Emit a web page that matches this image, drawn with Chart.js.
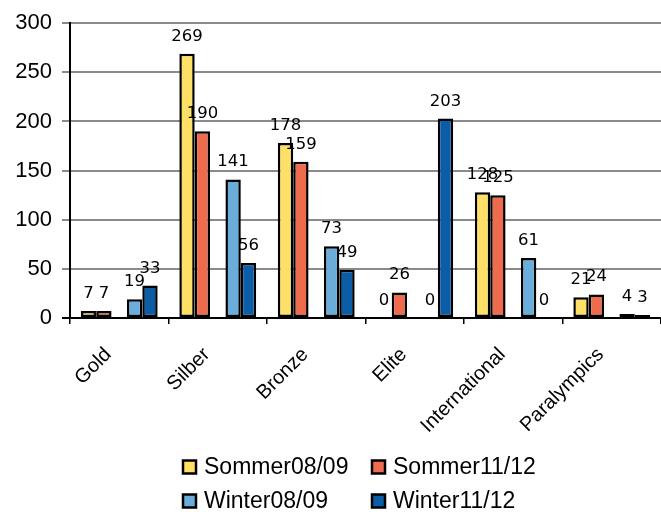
<!DOCTYPE html>
<html><head><meta charset="utf-8">
<script src="https://cdn.jsdelivr.net/npm/chart.js@4.4.1/dist/chart.umd.min.js"></script>
<style>html,body{margin:0;padding:0;background:#fff;}#wrap{width:661px;height:512px;}</style>
</head><body><div id="wrap"><canvas id="c" width="661" height="512"></canvas></div>
<script>
const categories = ['Gold','Silber','Bronze','Elite','International','Paralympics'];
const seriesNames = ['Sommer08/09','Sommer11/12','Winter08/09','Winter11/12'];
const sommer0809 = [7,269,178,0,128,21];
const sommer1112 = [7,190,159,26,125,24];
const winter0809 = [19,141,73,0,61,4];
const winter1112 = [33,56,49,203,0,3];
const yMin = 0, yMax = 300, yStep = 50;
const seriesColors = ['#FFE066','#EE6C4D','#6AADDB','#0B5DA7'];

const seriesData = [sommer0809, sommer1112, winter0809, winter1112];
function ds(i){
  return {label: seriesNames[i], data: seriesData[i], backgroundColor: seriesColors[i],
    borderColor: '#000', borderWidth: 2.5, borderSkipped: false, isSeries: true};
}
const spacer = {label: '', data: categories.map(() => null), backgroundColor: 'rgba(0,0,0,0)', borderWidth: 0, isSeries: false};

const valueLabels = {
  id: 'valueLabels',
  afterDatasetsDraw(chart) {
    const ctx = chart.ctx;
    ctx.save();
    ctx.font = '16.5px "DejaVu Sans"';
    ctx.fillStyle = '#000';
    ctx.textAlign = 'center';
    ctx.textBaseline = 'alphabetic';
    chart.data.datasets.forEach((d, di) => {
      if (!d.isSeries) return;
      const meta = chart.getDatasetMeta(di);
      meta.data.forEach((el, i) => {
        const v = d.data[i];
        if (v === null || v === undefined) return;
        ctx.fillText(String(v), el.x, el.y - 13);
      });
    });
    ctx.restore();
  }
};

const customLegend = {
  id: 'customLegend',
  afterDraw(chart) {
    const ctx = chart.ctx;
    ctx.save();
    ctx.font = '23px "Liberation Sans"';
    ctx.textBaseline = 'middle';
    ctx.textAlign = 'left';
    const colX = [183, 372];
    const rowY = [467, 501];
    const items = chart.data.datasets.filter(d => d.isSeries);
    items.forEach((d, k) => {
      const x = colX[k % 2], y = rowY[Math.floor(k / 2)];
      ctx.fillStyle = d.backgroundColor;
      ctx.fillRect(x, y - 6.5, 13, 13);
      ctx.strokeStyle = '#000';
      ctx.lineWidth = 2.5;
      ctx.strokeRect(x, y - 6.5, 13, 13);
      ctx.fillStyle = '#000';
      ctx.fillText(d.label, x + 21, y + 1);
    });
    ctx.restore();
  }
};

new Chart(document.getElementById('c'), {
  type: 'bar',
  data: {labels: categories, datasets: [ds(0), ds(1), spacer, ds(2), ds(3)]},
  options: {
    responsive: false, animation: false, devicePixelRatio: 1,
    layout: {padding: {top: 20, left: 0, right: 0, bottom: 0}},
    datasets: {bar: {categoryPercentage: 0.78, barPercentage: 1.0}},
    plugins: {legend: {display: false}, tooltip: {enabled: false}},
    scales: {
      x: {
        afterFit(s) { s.height = 194; },
        grid: {drawOnChartArea: false, color: '#000', lineWidth: 1.5, tickLength: 6, offset: true},
        border: {color: '#000', width: 2},
        ticks: {color: '#000', font: {family: 'Liberation Sans', size: 20}, minRotation: 45, maxRotation: 45, autoSkip: false, padding: 19, labelOffset: -11}
      },
      y: {
        min: yMin, max: yMax,
        afterFit(s) { s.width = 70; },
        grid: {color: (c) => c.tick && c.tick.value === 0 ? '#000' : '#8a8a8a', lineWidth: 2, tickLength: 8},
        border: {color: '#000', width: 2},
        ticks: {stepSize: yStep, color: '#000', font: {family: 'Liberation Sans', size: 22}, padding: 10}
      }
    }
  },
  plugins: [valueLabels, customLegend]
});
</script></body></html>
